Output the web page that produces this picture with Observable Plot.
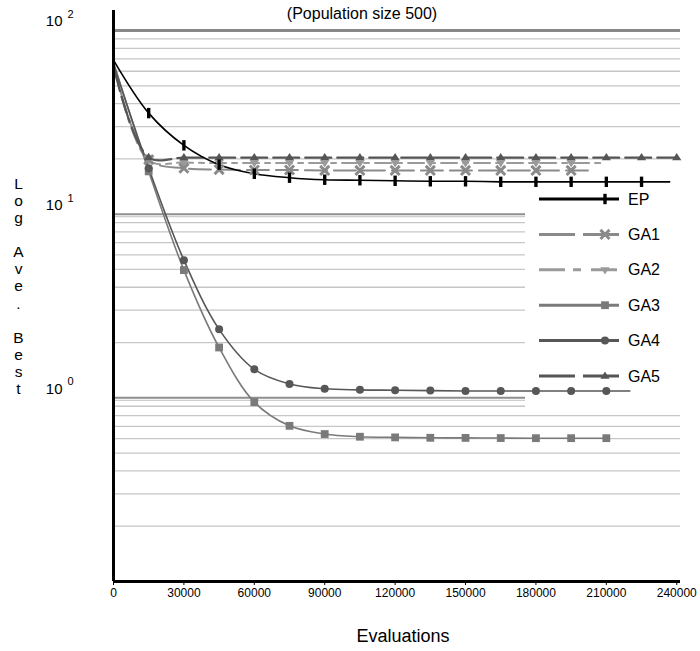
<!DOCTYPE html>
<html>
<head>
<meta charset="utf-8">
<script src="https://cdn.jsdelivr.net/npm/d3@7"></script>
<script src="https://cdn.jsdelivr.net/npm/@observablehq/plot@0.6"></script>
<style>
  body { margin: 0; background: #fff; }
  #chart { width: 700px; height: 651px; }
  svg { font-family: "Liberation Sans", Arial, sans-serif; }
</style>
</head>
<body>
<div id="chart"></div>
<script>
// ---------- data ----------
const seriesNames = ["EP", "GA1", "GA2", "GA3", "GA4", "GA5"];
const evalGrid = [0, 15000, 30000, 45000, 60000, 75000, 90000, 105000, 120000,
                  135000, 150000, 165000, 180000, 195000, 210000, 225000, 240000];
const epBest  = [69, 35.5, 23.7, 18.6, 16.6, 15.8, 15.4, 15.3, 15.2, 15.1, 15.1, 15.0, 15.0, 15.0, 15.0, 15.0];
const ga1Best = [66, 19.8, 17.8, 17.5, 17.4, 17.4, 17.3, 17.3, 17.3, 17.3, 17.3, 17.3, 17.3, 17.3];
const ga2Best = [65, 19.6, 19.1, 19.0, 19.0, 19.0, 19.0, 19.0, 19.0, 19.0, 19.0, 19.0, 19.0, 19.0];
const ga3Best = [67, 17.1, 4.96, 1.88, 0.948, 0.704, 0.635, 0.614, 0.609, 0.606, 0.605, 0.604, 0.603, 0.603, 0.603];
const ga4Best = [66, 17.8, 5.62, 2.36, 1.43, 1.19, 1.12, 1.105, 1.10, 1.095, 1.09, 1.09, 1.09, 1.09, 1.09];
const ga5Best = [64, 20.4, 20.3, 20.3, 20.3, 20.3, 20.3, 20.3, 20.3, 20.3, 20.3, 20.3, 20.3, 20.3, 20.3, 20.3, 20.3];
const lineEnd = [237000, 203000, 208000, 210000, 220000, 240000];
const markerStep = 15000;

const xTicks = [0, 30000, 60000, 90000, 120000, 150000, 180000, 210000, 240000];
const decadeGrid = [1, 10, 100];
const minorGrid = [0.2, 0.3, 0.4, 0.5, 0.6, 0.7, 0.8, 0.9,
                   2, 3, 4, 5, 6, 7, 8, 9,
                   20, 30, 40, 50, 60, 70, 80, 90];
const titleText = "(Population size 500)";
const xLabel = "Evaluations";
const yLabel = "Log Ave. Best";

// ---------- build rows ----------
const allBest = [epBest, ga1Best, ga2Best, ga3Best, ga4Best, ga5Best];
const lineRows = [];
const markRows = [];
seriesNames.forEach((name, s) => {
  const vals = allBest[s];
  vals.forEach((v, i) => {
    lineRows.push({series: name, x: evalGrid[i], y: v});
    if (evalGrid[i] > 0 && evalGrid[i] % markerStep === 0) markRows.push({series: name, x: evalGrid[i], y: v});
  });
  const lastX = evalGrid[vals.length - 1];
  if (lineEnd[s] > lastX) lineRows.push({series: name, x: lineEnd[s], y: vals[vals.length - 1]});
});

// ---------- symbols ----------
const vbar = {draw(ctx, size) { const r = Math.sqrt(size / Math.PI); ctx.rect(-r * 0.42, -r * 1.3, r * 0.84, r * 2.6); }};
const triDown = {draw(ctx, size) { const r = Math.sqrt(size / Math.PI); ctx.moveTo(-r * 1.05, -r * 0.6); ctx.lineTo(r * 1.05, -r * 0.6); ctx.lineTo(0, r * 1.05); ctx.closePath(); }};
const triUp = {draw(ctx, size) { const r = Math.sqrt(size / Math.PI); ctx.moveTo(-r * 1.05, r * 0.6); ctx.lineTo(r * 1.05, r * 0.6); ctx.lineTo(0, -r * 1.05); ctx.closePath(); }};

const styles = {
  EP:  {color: "#000000", width: 1.6, dash: null,        symbol: vbar,    r: 4,   hollow: false},
  GA1: {color: "#8a8a8a", width: 2,   dash: "22,7",      symbol: "times", r: 4.2, hollow: true},
  GA2: {color: "#9a9a9a", width: 2,   dash: "16,6,5,6",  symbol: triDown, r: 4.4, hollow: false},
  GA3: {color: "#7a7a7a", width: 1.6, dash: null,        symbol: "square",r: 4.4, hollow: false},
  GA4: {color: "#575757", width: 1.6, dash: null,        symbol: "circle",r: 4,   hollow: false},
  GA5: {color: "#555555", width: 2.2, dash: "26,6",      symbol: triUp,   r: 4.4, hollow: false}
};
const drawOrder = ["GA2", "GA1", "GA3", "GA4", "GA5", "EP"];

// ---------- layout (pixels) ----------
const legend = {boxLeft: 525, boxRight: 692, boxTop: 186, boxBottom: 410,
                lineX1: 539, lineX2: 619, markX: 605, labelX: 628, firstY: 199, rowGap: 35.4};

function legendBox() {
  const g = d3.create("svg:g");
  g.append("rect").attr("x", legend.boxLeft).attr("y", legend.boxTop)
    .attr("width", legend.boxRight - legend.boxLeft).attr("height", legend.boxBottom - legend.boxTop)
    .attr("fill", "#fff");
  return g.node();
}

function legendEntries() {
  const g = d3.create("svg:g");
  seriesNames.forEach((name, i) => {
    const st = styles[name];
    const y = legend.firstY + i * legend.rowGap;
    const ln = g.append("line").attr("x1", legend.lineX1).attr("x2", legend.lineX2)
      .attr("y1", y).attr("y2", y).attr("stroke", st.color).attr("stroke-width", 3);
    if (st.dash) {
      const pat = name === "GA2" ? "26,8,8,10" : "36,8";
      ln.attr("stroke-dasharray", pat);
    }
    const type = typeof st.symbol === "string"
      ? {times: d3.symbolTimes, square: d3.symbolSquare, circle: d3.symbolCircle}[st.symbol]
      : st.symbol;
    const size = Math.PI * st.r * st.r;
    const p = g.append("path").attr("d", d3.symbol(type, size)())
      .attr("transform", `translate(${legend.markX},${y})`);
    if (st.hollow) p.attr("fill", "none").attr("stroke", st.color).attr("stroke-width", 3);
    else p.attr("fill", st.color);
    g.append("text").attr("x", legend.labelX).attr("y", y).attr("dy", "0.35em")
      .attr("text-anchor", "start")
      .attr("font-size", 16).attr("fill", "#000").text(name);
  });
  return g.node();
}

// ---------- marks ----------
const marks = [
  Plot.ruleY(minorGrid, {stroke: "#c6c6c6", strokeWidth: 1.3}),
  Plot.ruleY(decadeGrid.filter(d => d < 100), {stroke: "#cdcdcd", strokeWidth: 1.2, dy: 2.5}),
  Plot.ruleY(decadeGrid.filter(d => d < 100), {stroke: "#8e8e8e", strokeWidth: 2}),
  Plot.ruleY(decadeGrid.filter(d => d >= 100), {stroke: "#888888", strokeWidth: 3}),
  legendBox
];

for (const name of drawOrder) {
  const st = styles[name];
  marks.push(Plot.line(lineRows.filter(d => d.series === name), {
    x: "x", y: "y", stroke: st.color, strokeWidth: st.width,
    strokeDasharray: st.dash || undefined, curve: "catmull-rom"
  }));
}
for (const name of drawOrder) {
  const st = styles[name];
  const opts = {x: "x", y: "y", r: st.r, symbol: st.symbol};
  if (st.hollow) { opts.stroke = st.color; opts.strokeWidth = 3; opts.fill = "none"; }
  else { opts.fill = st.color; opts.stroke = "none"; }
  marks.push(Plot.dot(markRows.filter(d => d.series === name), opts));
}

marks.push(
  Plot.ruleX([0], {y1: 0.1, y2: 128.5, stroke: "#000", strokeWidth: 3}),
  Plot.ruleY([0.1], {stroke: "#000", strokeWidth: 3}),
  Plot.axisX({ticks: xTicks, tickSize: 4, tickPadding: 3, tickFormat: d => String(d), fontSize: 12, label: null}),
  Plot.text(decadeGrid, {y: d => d, text: () => "10", frameAnchor: "left", dx: -51, dy: -9, textAnchor: "end", fontSize: 15}),
  Plot.text(decadeGrid, {y: d => d, text: d => String(Math.round(Math.log10(d))), frameAnchor: "left", dx: -46, dy: -16, textAnchor: "start", fontSize: 11}),
  Plot.text([yLabel.split("").map(c => c === " " ? "\u00a0" : c).join("\n")],
    {text: d => d, frameAnchor: "left", dx: -95, dy: -10, textAnchor: "middle", lineAnchor: "middle", fontSize: 15.5, lineHeight: 1.1}),
  Plot.text([titleText], {text: d => d, frameAnchor: "top", dx: -35, dy: 3, lineAnchor: "middle", fontSize: 16}),
  Plot.text([xLabel], {text: d => d, frameAnchor: "bottom", dx: 6, dy: 55, lineAnchor: "middle", fontSize: 18}),
  legendEntries
);

const chart = Plot.plot({
  width: 700,
  height: 651,
  marginLeft: 113,
  marginRight: 20,
  marginTop: 10,
  marginBottom: 70,
  style: {fontFamily: "'Liberation Sans', Arial, sans-serif", background: "#fff"},
  x: {domain: [0, 241600], axis: null},
  y: {type: "log", domain: [0.1, 128.5], axis: null},
  marks
});
document.getElementById("chart").appendChild(chart);
</script>
</body>
</html>
